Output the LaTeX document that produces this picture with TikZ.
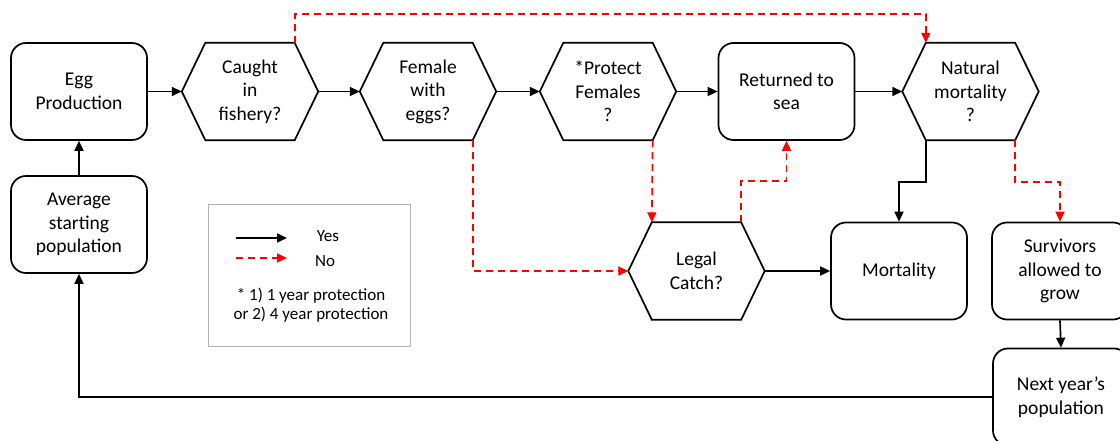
\documentclass[tikz,border=0pt]{standalone}
\usepackage{fontspec}
\setmainfont{Carlito}
\usetikzlibrary{arrows.meta}

\tikzset{
    yesline/.style={line width=1.7pt,-{Triangle[width=9pt,length=10pt]}},
    noline/.style={line width=1.7pt,red,dash pattern=on 7pt off 5pt,-{Triangle[width=9pt,length=10pt]}},
    roundbox/.style={draw,line width=1.7pt,rounded corners=15pt,minimum width=136pt,minimum height=97pt,inner sep=0pt,align=center,font=\fontsize{19.5}{23.5}\selectfont},
    hexbox/.style={minimum width=136pt,minimum height=97pt,inner sep=0pt,align=center,font=\fontsize{19.5}{23.5}\selectfont},
    legendtext/.style={font=\fontsize{17}{19}\selectfont},
}

% hexagon decision node with named corners
\newcommand{\hexnode}[3]{%
    \node[hexbox] (#1) at (#2) {#3};
    \coordinate (#1-nw) at ([xshift=23.5pt]#1.north west);
    \coordinate (#1-ne) at ([xshift=-23.5pt]#1.north east);
    \coordinate (#1-sw) at ([xshift=23.5pt]#1.south west);
    \coordinate (#1-se) at ([xshift=-23.5pt]#1.south east);
    \draw[line width=1.7pt,line join=miter] (#1-nw) -- (#1-ne) -- (#1.east) -- (#1-se) -- (#1-sw) -- (#1.west) -- cycle;
}

\begin{document}
\begin{tikzpicture}[x=1pt,y=-1pt]
    \useasboundingbox (0,0) rectangle (1120,441);

    % top row
    \node[roundbox] (egg) at (79,91.5) {Egg\\Production};
    \hexnode{caught}{250,91.5}{Caught\\in\\fishery?}
    \hexnode{female}{428,91.5}{Female\\with\\eggs?}
    \hexnode{protect}{608,91.5}{*Protect\\Females\\?}
    \node[roundbox] (returned) at (786.5,91.5) {Returned to\\sea};
    \hexnode{natural}{970.5,91.5}{Natural\\mortality\\?}

    % lower nodes
    \node[roundbox] (average) at (79,224.5) {Average\\starting\\population};
    \hexnode{legal}{696.5,271}{Legal\\Catch?}
    \node[roundbox] (mortality) at (899,271) {Mortality};
    \node[roundbox] (survivors) at (1060,271) {Survivors\\allowed to\\grow};
    \node[roundbox] (nextyear) at (1061,397) {Next year’s\\population};

    % legend
    \node[draw=gray!60,line width=1pt,minimum width=202pt,minimum height=141pt] (legend) at (309,275.5) {};
    \coordinate (yes-a) at (236,238);
    \coordinate (yes-b) at (287,238);
    \coordinate (no-a) at (236,258);
    \coordinate (no-b) at (287,258);
    \draw[yesline] (yes-a) -- (yes-b);
    \draw[noline] (no-a) -- (no-b);
    \node[legendtext] (yes-t) at (328,236) {Yes};
    \node[legendtext] (no-t) at (325,261) {No};
    \node[legendtext,align=center] (note) at (311,305.5) {* 1) 1 year protection\\or 2) 4 year protection};

    % yes connectors
    \draw[yesline] (egg.east) -- (caught.west);
    \draw[yesline] (caught.east) -- (female.west);
    \draw[yesline] (female.east) -- (protect.west);
    \draw[yesline] (protect.east) -- (returned.west);
    \draw[yesline] (returned.east) -- (natural.west);
    \draw[yesline] (average.north) -- (egg.south);
    \draw[yesline] (legal.east) -- (mortality.west);
    \draw[yesline] (natural-sw) -- ++(0,42) -| (mortality.north);
    \draw[yesline] (survivors.south) -- (nextyear.north);
    \draw[yesline] (nextyear.west) -| (average.south);

    % no connectors
    \draw[noline] (caught-ne) -- ++(0,-29) -| (natural-nw);
    \draw[noline] (female-se) |- (legal.west);
    \draw[noline] (protect-se) -- (legal-nw);
    \draw[noline] (legal-ne) -- ++(0,-41) -| (returned.south);
    \draw[noline] (natural-se) -- ++(0,42) -| (survivors.north);
\end{tikzpicture}
\end{document}
